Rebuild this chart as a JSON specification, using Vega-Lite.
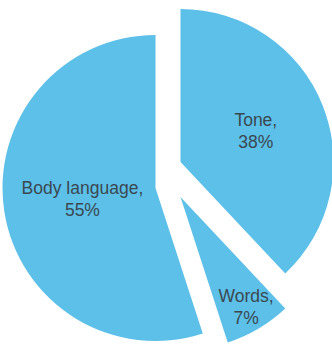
{
  "$schema": "https://vega.github.io/schema/vega-lite/v6.json",
  "width": 332,
  "height": 346,
  "autosize": {"type": "fit", "contains": "padding"},
  "padding": 0,
  "background": "white",
  "view": {"stroke": null},
  "data": {
    "values": [
      {"label": "Tone", "value": 38, "order": 1},
      {"label": "Words", "value": 7, "order": 2},
      {"label": "Body language", "value": 55, "order": 3}
    ]
  },
  "transform": [
    {"stack": "value", "groupby": [], "sort": [{"field": "order"}], "as": ["v0", "v1"]},
    {"calculate": "(datum.v0 + datum.v1) / 2", "as": "mid"},
    {"calculate": "[datum.label + ',', datum.value + '%']", "as": "txt"}
  ],
  "layer": [
    {
      "transform": [{"filter": "datum.label === 'Tone'"}],
      "layer": [
        {
          "mark": {"type": "arc", "radius": 153, "xOffset": 16, "yOffset": -11, "color": "#5DC0E8"},
          "encoding": {
            "theta": {"field": "v0", "type": "quantitative", "scale": {"domain": [0, 100]}},
            "theta2": {"field": "v1"}
          }
        },
        {
          "mark": {"type": "text", "radius": 81, "xOffset": 16, "yOffset": -22, "font": "Liberation Sans", "fontSize": 17.5, "lineHeight": 22, "align": "center", "baseline": "middle", "color": "#3A4852"},
          "encoding": {
            "theta": {"field": "mid", "type": "quantitative", "scale": {"domain": [0, 100]}},
            "text": {"field": "txt"}
          }
        }
      ]
    },
    {
      "transform": [{"filter": "datum.label === 'Words'"}],
      "layer": [
        {
          "mark": {"type": "arc", "radius": 153, "xOffset": 16, "yOffset": 24, "color": "#5DC0E8"},
          "encoding": {
            "theta": {"field": "v0", "type": "quantitative", "scale": {"domain": [0, 100]}},
            "theta2": {"field": "v1"}
          }
        },
        {
          "mark": {"type": "text", "radius": 127, "xOffset": 17, "yOffset": 15, "font": "Liberation Sans", "fontSize": 17.5, "lineHeight": 22, "align": "center", "baseline": "middle", "color": "#3A4852"},
          "encoding": {
            "theta": {"field": "mid", "type": "quantitative", "scale": {"domain": [0, 100]}},
            "text": {"field": "txt"}
          }
        }
      ]
    },
    {
      "transform": [{"filter": "datum.label === 'Body language'"}],
      "layer": [
        {
          "mark": {"type": "arc", "radius": 153, "xOffset": -9, "yOffset": 15, "color": "#5DC0E8"},
          "encoding": {
            "theta": {"field": "v0", "type": "quantitative", "scale": {"domain": [0, 100]}},
            "theta2": {"field": "v1"}
          }
        },
        {
          "mark": {"type": "text", "radius": 75, "xOffset": -8, "yOffset": 4, "font": "Liberation Sans", "fontSize": 17.5, "lineHeight": 22, "align": "center", "baseline": "middle", "color": "#3A4852"},
          "encoding": {
            "theta": {"field": "mid", "type": "quantitative", "scale": {"domain": [0, 100]}},
            "text": {"field": "txt"}
          }
        }
      ]
    }
  ]
}
